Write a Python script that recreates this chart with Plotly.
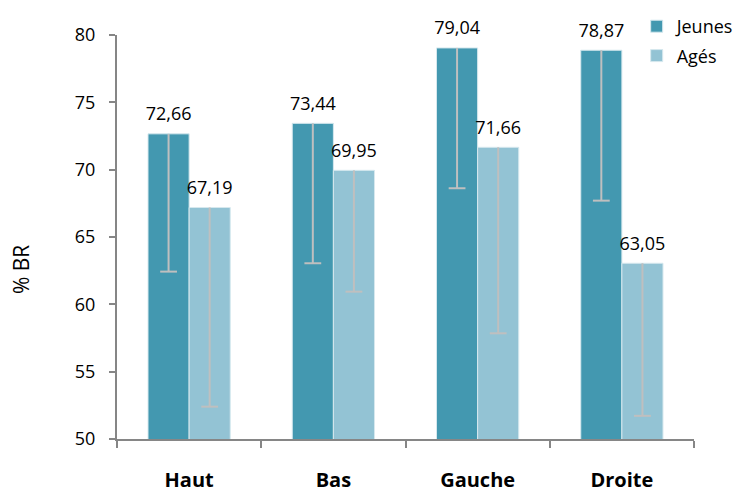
import plotly.graph_objects as go

# Valeurs
categories = ['Haut', 'Bas', 'Gauche', 'Droite']
jeunes = [72.66, 73.44, 79.04, 78.87]
ages = [67.19, 69.95, 71.66, 63.05]
# écarts (barre d'erreur vers le bas seulement)
jeunes_err = [10.23, 10.39, 10.42, 11.17]
ages_err = [14.79, 9.01, 13.81, 11.33]
y_ticks = [50, 55, 60, 65, 70, 75, 80]

police = 'Open Sans'
gris_err = '#BFBFBF'
ecart = 0.43

series = [
    ('Jeunes', jeunes, jeunes_err, '#4398B0'),
    ('Agés', ages, ages_err, '#93C3D4'),
]

fig = go.Figure()
for nom, vals, errs, couleur in series:
    fig.add_trace(go.Bar(
        x=categories, y=vals, name=nom, offsetgroup=nom, legendgroup=nom,
        marker=dict(color=couleur, line=dict(color='#D6E8EE', width=1)),
        error_y=dict(type='data', symmetric=False, array=[0] * len(vals), arrayminus=errs,
                     color=gris_err, thickness=2, width=0),
    ))
for nom, vals, errs, couleur in series:
    # petit trait horizontal au bas de la barre d'erreur
    bas = [v - e for v, e in zip(vals, errs)]
    fig.add_trace(go.Scatter(
        x=categories, y=bas, mode='markers', offsetgroup=nom, showlegend=False,
        marker=dict(symbol='line-ew', size=12, line=dict(color=gris_err, width=2)),
        hoverinfo='skip', cliponaxis=False,
    ))
    # étiquettes de valeur au-dessus des barres
    fig.add_trace(go.Scatter(
        x=categories, y=vals, mode='markers+text', offsetgroup=nom, showlegend=False,
        marker=dict(size=13, opacity=0), texttemplate='%{y:.2f}',
        textposition='top center', textfont=dict(size=18, color='#000000'),
        hoverinfo='skip', cliponaxis=False,
    ))

fig.update_layout(
    width=744, height=492,
    margin=dict(l=109, r=58, t=27, b=61, autoexpand=False),
    paper_bgcolor='white', plot_bgcolor='white',
    font=dict(family=police, color='#000000', size=18),
    separators=', ',
    barmode='group', bargap=ecart, bargroupgap=0,
    scattermode='group', scattergap=ecart,
    showlegend=True,
    legend=dict(xref='container', yref='container', x=0.845, y=1.015,
                xanchor='left', yanchor='top',
                font=dict(size=18), bgcolor='rgba(0,0,0,0)',
                traceorder='grouped', tracegroupgap=3, itemwidth=30),
    # titre de l'axe Y, un peu plus bas que le centre comme sur l'original
    annotations=[dict(text='% BR', xref='paper', yref='paper', x=-0.165, y=0.42,
                      xanchor='center', yanchor='middle', textangle=-90,
                      showarrow=False, font=dict(size=21))],
)
fig.update_yaxes(
    range=[50, 80], tickvals=y_ticks, showgrid=False, zeroline=False,
    showline=True, linecolor='#868686', linewidth=2,
    ticks='outside', ticklen=6, tickcolor='#868686', tickwidth=2,
    ticklabelstandoff=10, tickfont=dict(size=18),
    automargin=False,
)
fig.update_xaxes(
    showgrid=False, showline=True, linecolor='#868686', linewidth=2,
    ticks='outside', ticklen=7, tickcolor='#868686', tickwidth=2,
    tickson='boundaries', ticklabelstandoff=22,
    tickfont=dict(size=20, family=police, weight='bold'),
    automargin=False,
)

fig.write_html('out.html')
